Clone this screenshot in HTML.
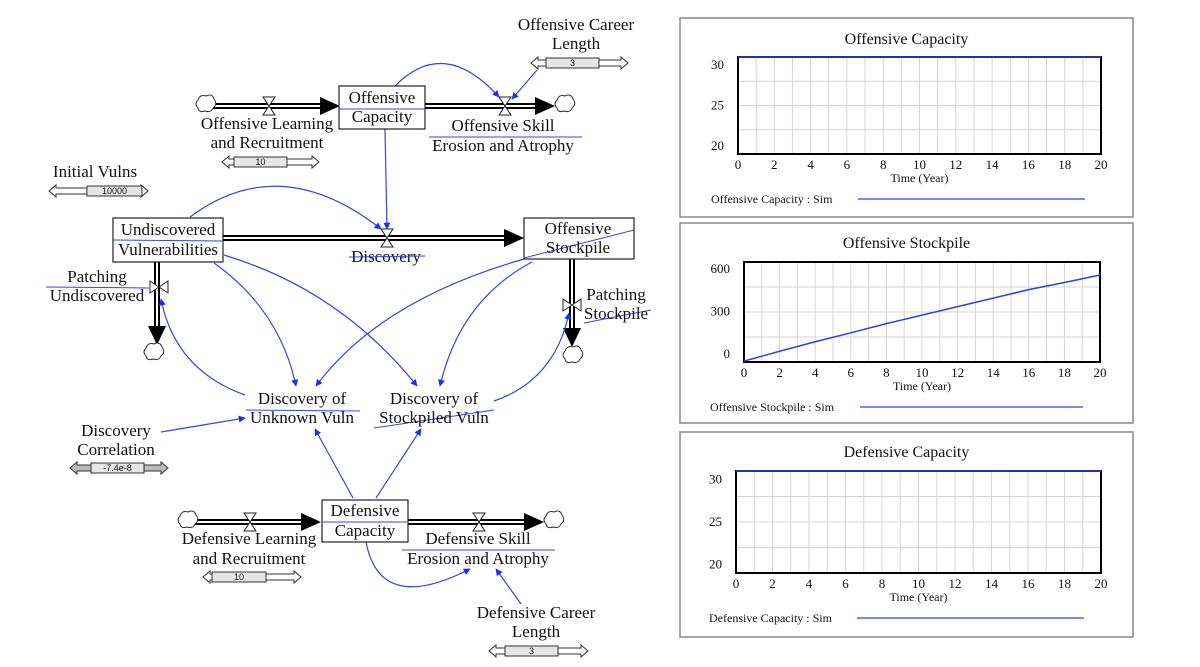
<!DOCTYPE html>
<html><head><meta charset="utf-8"><style>
html,body{margin:0;padding:0;background:#fff;}
svg{display:block;}
text{font-family:"Liberation Serif",serif;fill:#111;}
.lbl{font-size:17px;text-anchor:middle;}
.sl{font-size:9px;font-family:"Liberation Sans",sans-serif;text-anchor:middle;}
.bl{stroke:#3344ee;stroke-width:1.2;fill:none;}
</style></head><body>
<svg id="root" width="1200" height="667" viewBox="0 0 1200 667">
<defs>
<marker id="ba" viewBox="0 0 10 10" refX="9" refY="5" markerWidth="7" markerHeight="9" orient="auto-start-reverse" markerUnits="userSpaceOnUse"><path d="M0,0L10,5L0,10z" fill="#1a2cff"/></marker>
</defs>
<g id="diagram">
<g>
<line x1="212" y1="106" x2="322" y2="106" stroke="#000" stroke-width="6"/><line x1="212" y1="106" x2="322" y2="106" stroke="#fff" stroke-width="2"/>
<polygon points="320,97 340,106 320,115" fill="#000"/>
</g>
<g>
<line x1="425" y1="106" x2="537" y2="106" stroke="#000" stroke-width="6"/><line x1="425" y1="106" x2="537" y2="106" stroke="#fff" stroke-width="2"/>
<polygon points="535,97 555,106 535,115" fill="#000"/>
</g>
<g>
<line x1="223" y1="238" x2="506" y2="238" stroke="#000" stroke-width="6"/><line x1="223" y1="238" x2="506" y2="238" stroke="#fff" stroke-width="2"/>
<polygon points="504,229 524,238 504,247" fill="#000"/>
</g>
<g>
<line x1="157" y1="262" x2="157" y2="328" stroke="#000" stroke-width="6"/><line x1="157" y1="262" x2="157" y2="328" stroke="#fff" stroke-width="2"/>
<polygon points="148,326 157,345 166,326" fill="#000"/>
</g>
<g>
<line x1="572" y1="259" x2="572" y2="330" stroke="#000" stroke-width="6"/><line x1="572" y1="259" x2="572" y2="330" stroke="#fff" stroke-width="2"/>
<polygon points="563,328 572,347 581,328" fill="#000"/>
</g>
<g>
<line x1="195" y1="522" x2="303" y2="522" stroke="#000" stroke-width="6"/><line x1="195" y1="522" x2="303" y2="522" stroke="#fff" stroke-width="2"/>
<polygon points="301,513 321,522 301,531" fill="#000"/>
</g>
<g>
<line x1="408" y1="522" x2="526" y2="522" stroke="#000" stroke-width="6"/><line x1="408" y1="522" x2="526" y2="522" stroke="#fff" stroke-width="2"/>
<polygon points="524,513 544,522 524,531" fill="#000"/>
</g>
<g fill="#fff" stroke="#333" stroke-width="1">
<path d="M198,100 q2,-6 8,-4 q6,-3 8,3 q4,5 -1,9 q-2,5 -8,3 q-6,2 -7,-3 q-4,-4 0,-8z"/>
<path d="M557,100 q2,-6 8,-4 q6,-3 8,3 q4,5 -1,9 q-2,5 -8,3 q-6,2 -7,-3 q-4,-4 0,-8z"/>
<path d="M146,348 q2,-6 8,-4 q6,-3 8,3 q4,5 -1,9 q-2,5 -8,3 q-6,2 -7,-3 q-4,-4 0,-8z"/>
<path d="M565,351 q2,-6 8,-4 q6,-3 8,3 q4,5 -1,9 q-2,5 -8,3 q-6,2 -7,-3 q-4,-4 0,-8z"/>
<path d="M180,516 q2,-6 8,-4 q6,-3 8,3 q4,5 -1,9 q-2,5 -8,3 q-6,2 -7,-3 q-4,-4 0,-8z"/>
<path d="M546,516 q2,-6 8,-4 q6,-3 8,3 q4,5 -1,9 q-2,5 -8,3 q-6,2 -7,-3 q-4,-4 0,-8z"/>
</g>
<g fill="#fff" stroke="#222" stroke-width="1">
<polygon points="263,97 275,97 263,115 275,115"/>
<polygon points="499,97 511,97 499,115 511,115"/>
<polygon points="381,229 393,229 381,247 393,247"/>
<polygon points="150,281 150,293 168,281 168,293"/>
<polygon points="563,299 563,311 581,299 581,311"/>
<polygon points="244,513 256,513 244,531 256,531"/>
<polygon points="473,513 485,513 473,531 485,531"/>
</g>
<g class="bl">
<path d="M395,86 Q444,36 499,97" marker-end="url(#ba)"/>
<path d="M537,70 L512,99" marker-end="url(#ba)"/>
<path d="M385,129 L387,229" marker-end="url(#ba)"/>
<path d="M190,217 Q280,150 381,229" marker-end="url(#ba)"/>
<path d="M214,263 Q280,310 296,386" marker-end="url(#ba)"/>
<path d="M524,259 Q380,300 316,386" marker-end="url(#ba)"/>
<path d="M224,255 Q340,290 417,386" marker-end="url(#ba)"/>
<path d="M532,262 Q460,300 440,386" marker-end="url(#ba)"/>
<path d="M245,395 Q175,370 161,299" marker-end="url(#ba)"/>
<path d="M494,401 Q555,380 569,313" marker-end="url(#ba)"/>
<path d="M161,432 L245,418" marker-end="url(#ba)"/>
<path d="M353,498 L315,429" marker-end="url(#ba)"/>
<path d="M376,498 L421,429" marker-end="url(#ba)"/>
<path d="M366,542 Q380,615 470,569" marker-end="url(#ba)"/>
<path d="M521,604 L496,569" marker-end="url(#ba)"/>
</g>
<g>
<rect x="339" y="86" width="86" height="43" fill="#fff" stroke="#222" stroke-width="1.2"/>
<line x1="339" y1="109" x2="425" y2="109" stroke="#3344ee"/>
<text class="lbl" x="382" y="103">Offensive</text><text class="lbl" x="382" y="122">Capacity</text>
</g>
<g>
<rect x="113" y="218" width="110" height="44" fill="#fff" stroke="#222" stroke-width="1.2"/>
<line x1="113" y1="240" x2="223" y2="241" stroke="#3344ee"/>
<text class="lbl" x="168" y="235">Undiscovered</text><text class="lbl" x="168" y="255">Vulnerabilities</text>
</g>
<g>
<rect x="524" y="218" width="110" height="41" fill="#fff" stroke="#222" stroke-width="1.2"/>
<line x1="524" y1="258" x2="634" y2="230" stroke="#3344ee"/>
<text class="lbl" x="578" y="234">Offensive</text><text class="lbl" x="578" y="253">Stockpile</text>
</g>
<g>
<rect x="322" y="500" width="86" height="42" fill="#fff" stroke="#222" stroke-width="1.2"/>
<line x1="322" y1="522" x2="408" y2="522" stroke="#3344ee"/>
<text class="lbl" x="365" y="516">Defensive</text><text class="lbl" x="365" y="536">Capacity</text>
</g>
<g><text class="lbl" x="267" y="129">Offensive Learning</text><text class="lbl" x="267" y="148">and Recruitment</text></g>
<g>
<line x1="429" y1="137" x2="582" y2="137" stroke="#3344ee"/>
<text class="lbl" x="503" y="131">Offensive Skill</text><text class="lbl" x="503" y="151">Erosion and Atrophy</text></g>
<g><text class="lbl" x="576" y="30">Offensive Career</text><text class="lbl" x="576" y="49">Length</text></g>
<g><text class="lbl" x="95" y="177">Initial Vulns</text></g>
<g><text class="lbl" x="386" y="262">Discovery</text>
<line x1="349" y1="257" x2="425" y2="256" stroke="#3344ee"/></g>
<g>
<line x1="46" y1="287" x2="149" y2="288" stroke="#3344ee"/>
<text class="lbl" x="97" y="282">Patching</text><text class="lbl" x="97" y="301">Undiscovered</text></g>
<g>
<line x1="584" y1="323" x2="651" y2="310" stroke="#3344ee"/>
<text class="lbl" x="616" y="300">Patching</text><text class="lbl" x="616" y="319">Stockpile</text></g>
<g>
<line x1="246" y1="410" x2="360" y2="411" stroke="#3344ee"/>
<text class="lbl" x="302" y="404">Discovery of</text><text class="lbl" x="302" y="423">Unknown Vuln</text></g>
<g>
<line x1="374" y1="428" x2="494" y2="410" stroke="#3344ee"/>
<text class="lbl" x="434" y="404">Discovery of</text><text class="lbl" x="434" y="423">Stockpiled Vuln</text></g>
<g><text class="lbl" x="116" y="436">Discovery</text><text class="lbl" x="116" y="455">Correlation</text></g>
<g><text class="lbl" x="249" y="544">Defensive Learning</text><text class="lbl" x="249" y="564">and Recruitment</text></g>
<g>
<line x1="402" y1="550" x2="555" y2="550" stroke="#3344ee"/>
<text class="lbl" x="478" y="544">Defensive Skill</text><text class="lbl" x="478" y="564">Erosion and Atrophy</text></g>
<g><text class="lbl" x="536" y="618">Defensive Career</text><text class="lbl" x="536" y="637">Length</text></g>
</g>
<g id="sliders"></g>
<g id="charts"></g>
</svg>
<script>
// ---- chart data ----
const years = [0,2,4,6,8,10,12,14,16,18,20];
const offensiveCapacity = [31,31,31,31,31,31,31,31,31,31,31];
const offensiveStockpile = [-50,20,87,150,215,275,335,395,455,505,558];
const defensiveCapacity = [31,31,31,31,31,31,31,31,31,31,31];
const xTickLabels = [0,2,4,6,8,10,12,14,16,18,20];
const capacityTicks = [20,25,30];
const stockpileTicks = [0,300,600];

const NS = 'http://www.w3.org/2000/svg';
function mk(tag, attrs, parent){const e=document.createElementNS(NS,tag);for(const k in attrs)e.setAttribute(k,attrs[k]);parent.appendChild(e);return e;}

const sliders = document.getElementById('sliders');
function slider(name, x0, x1, bx0, bx1, y, val, gray){
  const g = mk('g',{},sliders);
  
  
  const f = gray ? '#bbb' : '#fff';
  mk('polygon',{points:`${x0},${y} ${x0+7},${y-6} ${x0+7},${y-3} ${x1-7},${y-3} ${x1-7},${y-6} ${x1},${y} ${x1-7},${y+6} ${x1-7},${y+3} ${x0+7},${y+3} ${x0+7},${y+6}`,fill:f,stroke:'#333','stroke-width':1},g);
  mk('rect',{x:bx0,y:y-5,width:bx1-bx0,height:10,fill:'#e6e6e6',stroke:'#333','stroke-width':1},g);
  const t = mk('text',{x:(bx0+bx1)/2,y:y+3,class:'sl'},g); t.textContent = val;
}
slider('offensive-career-slider',531,628,546,599,63,'3',false);
slider('offensive-learning-slider',222,319,234,287,162,'10',false);
slider('initial-vulns-slider',49,148,87,142,191,'10000',false);
slider('discovery-correlation-slider',70,168,91,144,468,'-7.4e-8',true);
slider('defensive-learning-slider',203,301,212,266,577,'10',false);
slider('defensive-career-slider',489,588,505,558,651,'3',false);

const charts = document.getElementById('charts');
function chart(cfg){
  const g = mk('g',{},charts);
  
  
  const p = mk('rect',{x:cfg.px,y:cfg.py,width:cfg.pw,height:cfg.ph,fill:'#fff',stroke:'#888','stroke-width':1.5},g);
  
  
  const t = mk('text',{x:cfg.px+cfg.pw/2,y:cfg.ty,'text-anchor':'middle','font-size':16},g);
  t.textContent = cfg.title;
  
  
  const X = v => cfg.x0 + (v-0)/(20-0)*(cfg.x1-cfg.x0);
  const Y = v => cfg.y1 - (v-cfg.dmin)/(cfg.dmax-cfg.dmin)*(cfg.y1-cfg.y0);
  for(let i=1;i<20;i++){ const l=mk('line',{x1:X(i),x2:X(i),y1:cfg.y0,y2:cfg.y1,stroke:'#d4d4d4','stroke-width':1},g);
      }
  for(let i=1;i<4;i++){ const yy=cfg.y0+(cfg.y1-cfg.y0)*i/4; const l=mk('line',{x1:cfg.x0,x2:cfg.x1,y1:yy,y2:yy,stroke:'#d4d4d4','stroke-width':1},g);
      }
  const b = mk('rect',{x:cfg.x0,y:cfg.y0,width:cfg.x1-cfg.x0,height:cfg.y1-cfg.y0,fill:'none',stroke:'#000','stroke-width':2},g);
   
  const pts = years.map((yr,i)=>X(yr)+','+Y(cfg.values[i])).join(' ');
  const line = mk('polyline',{points:pts,fill:'none',stroke:'#2a3ff0','stroke-width':1.5},g);
  
  
  cfg.yticks.forEach(v=>{ const tt=mk('text',{x:cfg.x0-14,y:Y(v)+4,'text-anchor':'end','font-size':13},g); tt.textContent=v;
      });
  xTickLabels.forEach(v=>{ const tt=mk('text',{x:X(v),y:cfg.y1+15,'text-anchor':'middle','font-size':13},g); tt.textContent=v;
      });
  const xt = mk('text',{x:(cfg.x0+cfg.x1)/2,y:cfg.y1+28,'text-anchor':'middle','font-size':12},g); xt.textContent='Time (Year)';
   
  const lg = mk('text',{x:cfg.lx,y:cfg.ly+4,'font-size':12},g); lg.textContent = cfg.title + ' : Sim';
   
  const ll = mk('line',{x1:cfg.lx0,x2:cfg.lx1,y1:cfg.ly,y2:cfg.ly,stroke:'#2a3ff0','stroke-width':1.2},g);
   
}
chart({name:'offensive-capacity-chart',series:'offensive-capacity-line',title:'Offensive Capacity',values:offensiveCapacity,yticks:capacityTicks,
  px:680,py:18,pw:453,ph:199,ty:44,x0:738,x1:1101,y0:57,y1:154,dmin:19,dmax:31,lx:711,ly:199,lx0:858,lx1:1085});
chart({name:'offensive-stockpile-chart',series:'offensive-stockpile-line',title:'Offensive Stockpile',values:offensiveStockpile,yticks:stockpileTicks,
  px:680,py:223,pw:453,ph:200,ty:248,x0:744,x1:1100,y0:262,y1:362,dmin:-56,dmax:650,lx:710,ly:407,lx0:860,lx1:1083});
chart({name:'defensive-capacity-chart',series:'defensive-capacity-line',title:'Defensive Capacity',values:defensiveCapacity,yticks:capacityTicks,
  px:680,py:432,pw:453,ph:205,ty:457,x0:736,x1:1101,y0:471,y1:573,dmin:19,dmax:31,lx:709,ly:618,lx0:857,lx1:1084});
</script>
</body></html>
